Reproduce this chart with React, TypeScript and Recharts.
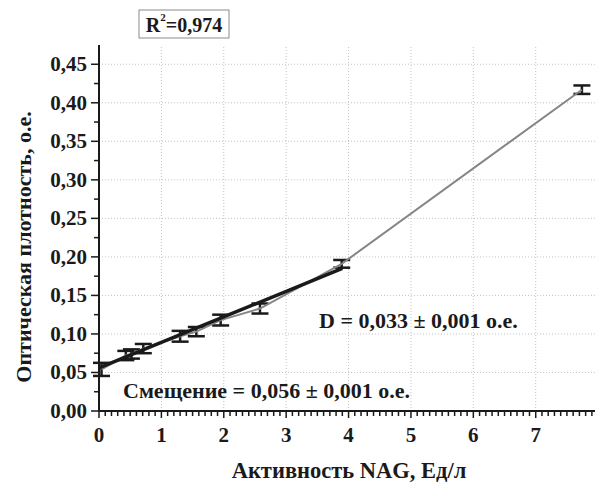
import { ComposedChart, ErrorBar, Line, ReferenceLine, XAxis, YAxis } from "recharts";

// measured points (NAG activity, optical density, error)
const nagActivity = [0.04, 0.43, 0.52, 0.71, 1.3, 1.56, 1.95, 2.58, 3.89, 7.74];
const opticalDensity = [0.054, 0.072, 0.074, 0.081, 0.097, 0.103, 0.118, 0.133, 0.191, 0.417];
const densityError = [0.0085, 0.006, 0.006, 0.006, 0.007, 0.006, 0.007, 0.0065, 0.005, 0.0055];

// linear fit segment (start, end)
const fitX = [0, 3.9];
const fitY = [0.056, 0.185];

const xMajor = [1, 2, 3, 4, 5, 6, 7];
const yMajor = [0.05, 0.1, 0.15, 0.2, 0.25, 0.3, 0.35, 0.4, 0.45];

const xTicks: number[] = [];
for (let i = 0; i <= 79; i++) xTicks.push(i / 10);
const yTicks: number[] = [];
for (let i = 0; i <= 18; i++) yTicks.push(i * 0.025);

const points = nagActivity.map((x, i) => ({ x, y: opticalDensity[i], err: densityError[i] }));
const fit = fitX.map((x, i) => ({ x, y: fitY[i] }));

const FONT = "'Liberation Serif', 'Times New Roman', serif";
const INK = "#1a1a1a";

function XTick(props: any) {
  const { x, y, payload } = props;
  const v = payload.value;
  const major = Math.abs(v - Math.round(v)) < 1e-6;
  return (
    <g>
      <line x1={x} y1={y} x2={x} y2={y + (major ? 7 : 5)} stroke={INK} strokeWidth={1.5} />
      {major && (
        <text x={x} y={y + 31} textAnchor="middle" fontFamily={FONT} fontWeight="bold" fontSize={21} fill={INK}>
          {Math.round(v)}
        </text>
      )}
    </g>
  );
}

function YTick(props: any) {
  const { x, y, payload } = props;
  const v = payload.value;
  const major = Math.abs(v * 20 - Math.round(v * 20)) < 1e-6;
  return (
    <g>
      <line x1={x - (major ? 8 : 5)} y1={y} x2={x} y2={y} stroke={INK} strokeWidth={1.5} />
      {major && (
        <text x={x - 12} y={y} textAnchor="end" dominantBaseline="central" fontFamily={FONT} fontWeight="bold" fontSize={21} fill={INK}>
          {v.toFixed(2).replace(".", ",")}
        </text>
      )}
    </g>
  );
}

export default function App() {
  return (
    <div style={{ position: "absolute", left: 0, top: 0, width: 596, height: 482, background: "#fff" }}>
      <ComposedChart width={596} height={482} margin={{ top: 45, right: 1, bottom: 0, left: 0 }}>
        <XAxis
          type="number"
          dataKey="x"
          domain={[0, 7.95]}
          ticks={xTicks}
          interval={0}
          height={71}
          tickSize={0}
          tickMargin={0}
          tickLine={false}
          tick={<XTick />}
          axisLine={{ stroke: INK, strokeWidth: 2 }}
          allowDataOverflow
        />
        <YAxis
          type="number"
          domain={[0, 0.475]}
          ticks={yTicks}
          interval={0}
          width={99}
          tickSize={0}
          tickMargin={0}
          tickLine={false}
          tick={<YTick />}
          axisLine={{ stroke: INK, strokeWidth: 2 }}
          allowDataOverflow
        />
        {xMajor.map((v) => (
          <ReferenceLine key={"gx" + v} x={v} stroke="#c4c4c4" strokeDasharray="1 2" />
        ))}
        {yMajor.map((v) => (
          <ReferenceLine key={"gy" + v} y={v} stroke="#c4c4c4" strokeDasharray="1 2" />
        ))}
        <Line
          data={points}
          dataKey="y"
          type="linear"
          stroke="#858585"
          strokeWidth={2}
          dot={false}
          isAnimationActive={false}
        >
          <ErrorBar dataKey="err" direction="y" width={8.5} stroke={INK} strokeWidth={2.5} />
        </Line>
        <Line
          data={fit}
          dataKey="y"
          type="linear"
          stroke={INK}
          strokeWidth={3.5}
          dot={false}
          isAnimationActive={false}
        />
      </ComposedChart>
      <svg
        width={596}
        height={482}
        style={{ position: "absolute", left: 0, top: 0, pointerEvents: "none" }}
        fontFamily={FONT}
        fontWeight="bold"
        fill={INK}
      >
        <rect x={139} y={10} width={90} height={28} fill="none" stroke="#8c8c8c" strokeWidth={1} />
        <text x={184} y={25} textAnchor="middle" dominantBaseline="central" fontSize={20}>
          R<tspan fontSize={11} dy={-8}>2</tspan>
          <tspan dy={8}>=0,974</tspan>
        </text>
        <text x={319} y={320} dominantBaseline="central" fontSize={22}>
          D = 0,033 ± 0,001 о.е.
        </text>
        <text x={123} y={390} dominantBaseline="central" fontSize={22}>
          Смещение = 0,056 ± 0,001 о.е.
        </text>
        <text
          x={23}
          y={247}
          transform="rotate(-90 23 247)"
          textAnchor="middle"
          dominantBaseline="central"
          fontSize={22}
        >
          Оптическая плотность, о.е.
        </text>
        <text x={349} y={470} textAnchor="middle" dominantBaseline="central" fontSize={22.5}>
          Активность NAG, Ед/л
        </text>
      </svg>
    </div>
  );
}
